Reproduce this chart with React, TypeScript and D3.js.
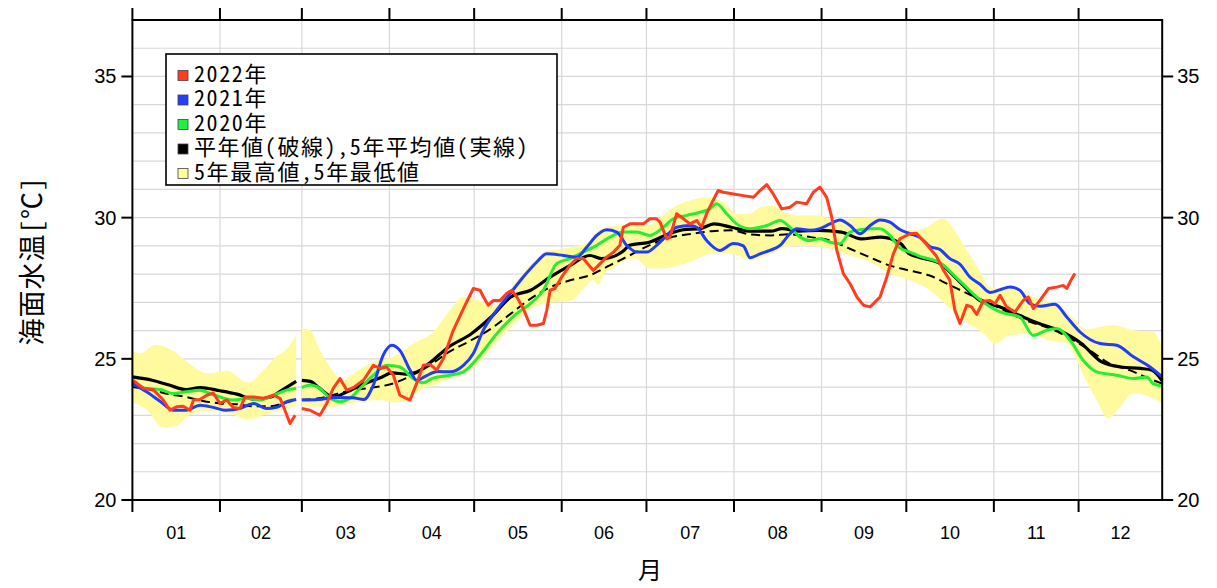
import React from 'react';
import * as d3 from 'd3';

type Pt = [number, number];

// ---- axes / categories ----
const monthLabels = ['01', '02', '03', '04', '05', '06', '07', '08', '09', '10', '11', '12'];
const monthStarts = [0, 31, 60, 91, 121, 152, 182, 213, 244, 274, 305, 335];
const yearEnd = 364.6;
const yTicks = [20, 25, 30, 35];
const yGrid = d3.range(21, 37, 1);

// ---- series (day of year, °C); NaN = missing day (Feb 29) ----
const mean5: Pt[] = [[0,24.36],[7,24.24],[13,24.07],[19,23.91],[24,23.98],[31,23.87],[37,23.75],[43,23.57],[49,23.65],[53,23.89],[58,24.2],[59,NaN],[60,24.24],[63,24.2],[66,23.98],[71,23.65],[76,23.83],[81,24.07],[88,24.34],[92,24.5],[97,24.46],[102,24.6],[105,24.83],[112,25.42],[120,25.89],[127,26.48],[134,27.19],[141,27.43],[148,27.9],[155,28.31],[162,28.66],[166,28.55],[169,28.58],[174,28.84],[176,29.02],[183,29.13],[190,29.43],[195,29.57],[201,29.61],[206,29.78],[212,29.66],[219,29.52],[226,29.52],[230,29.61],[236,29.52],[243,29.55],[251,29.49],[258,29.25],[265,29.31],[272,29.08],[275,28.72],[279,28.58],[286,28.37],[293,27.72],[300,27.07],[307,26.84],[314,26.54],[321,26.25],[328,26.01],[336,25.54],[343,24.9],[350,24.71],[357,24.66],[361,24.6],[364.6,24.22]];

const normal: Pt[] = [[0,24.0],[7,23.89],[13,23.75],[19,23.65],[25,23.51],[31,23.42],[37,23.39],[43,23.32],[49,23.32],[54,23.44],[58,23.54],[59,NaN],[60,23.55],[66,23.6],[72,23.75],[78,23.89],[85,23.98],[92,24.12],[99,24.42],[105,24.75],[112,25.24],[120,25.66],[127,26.07],[134,26.6],[141,27.13],[148,27.54],[155,27.78],[162,27.96],[169,28.31],[176,28.66],[183,29.02],[190,29.29],[197,29.41],[205,29.52],[212,29.55],[219,29.4],[226,29.37],[233,29.41],[240,29.31],[247,29.19],[254,28.9],[261,28.6],[268,28.31],[275,28.13],[282,27.96],[289,27.63],[297,27.25],[304,26.95],[311,26.6],[318,26.3],[325,26.07],[332,25.72],[339,25.3],[346,24.83],[353,24.6],[360,24.3],[364.6,24.12]];

const y2021: Pt[] = [[0,24.13],[5,23.83],[10,23.48],[14.5,23.18],[19,23.18],[24,23.36],[28.6,23.28],[33,23.18],[38,23.24],[43,23.42],[47.5,23.24],[51,23.28],[54.6,23.48],[58,23.56],[59,NaN],[60,23.54],[66,23.56],[72,23.63],[78,23.62],[82,23.56],[85.3,24.07],[88.8,25.13],[91.8,25.48],[94.7,25.3],[98.3,24.6],[100.6,24.24],[104,24.4],[108,24.55],[112.4,24.54],[117.2,24.77],[120.7,25.19],[124.2,26.01],[129,26.72],[133.7,27.31],[138.4,27.9],[143.2,28.43],[146.7,28.72],[152.6,28.66],[157.3,28.6],[160.9,28.96],[164.4,29.37],[167.9,29.57],[171.5,29.49],[175,29.02],[178.6,28.78],[182.1,28.78],[185.6,29.02],[189.2,29.37],[192.7,29.66],[197.4,29.72],[199.8,29.66],[203.3,29.19],[208,28.84],[212.8,29.08],[216.3,29.0],[218.7,28.58],[222.2,28.72],[225.7,28.84],[229.3,29.02],[232.8,29.43],[235.2,29.61],[239.9,29.55],[243.4,29.61],[247,29.78],[250.5,29.92],[254.1,29.72],[257.6,29.43],[261.2,29.72],[264.7,29.92],[268.2,29.84],[271.7,29.58],[275.3,29.43],[278.8,29.3],[282.3,28.98],[285.9,28.87],[289.4,28.55],[293,28.35],[296.5,27.9],[300,27.65],[303.6,27.35],[307.2,27.45],[310.7,27.54],[314.2,27.43],[317.8,26.95],[321.3,26.86],[326.6,26.93],[330.8,26.48],[335.5,25.95],[342.6,25.54],[348.5,25.48],[354.4,25.07],[360.3,24.71],[364.6,24.36]];

const y2020: Pt[] = [[0,24.18],[5,23.95],[10,23.91],[14.5,23.77],[19,23.83],[24,23.89],[27.5,23.77],[31,23.65],[35.7,23.54],[40.5,23.6],[45.2,23.54],[49.9,23.71],[54.6,23.89],[58,23.95],[59,NaN],[60,23.98],[63,24.07],[66.4,23.95],[70,23.6],[73.5,23.48],[77,23.6],[80.6,23.95],[85.3,24.42],[90,24.77],[94.7,24.71],[99.4,24.3],[103,24.15],[106,24.3],[112.4,24.42],[117.2,24.54],[123.1,25.13],[129,25.89],[136,26.6],[140.8,26.95],[145.5,27.43],[150.2,28.37],[154.9,28.55],[159.6,28.78],[164.4,29.02],[169.1,29.31],[173.8,29.49],[178.6,29.49],[183.2,29.37],[188,29.66],[191.5,29.96],[196.3,30.08],[200.9,30.19],[204.5,30.31],[206.8,30.49],[210.4,30.14],[213.9,29.78],[218.7,29.61],[224.6,29.72],[229.3,29.9],[232.8,29.66],[236.4,29.31],[239.9,29.19],[243.4,29.25],[247,29.13],[250.5,29.08],[254.1,29.49],[257.6,29.57],[261.2,29.61],[264.7,29.61],[268.2,29.37],[271.7,28.93],[275.3,28.78],[278.8,28.63],[285.9,28.4],[293,27.75],[300,27.1],[307.2,26.66],[314.2,26.48],[319,25.83],[323.7,26.01],[327.2,26.07],[332,25.66],[336.6,24.95],[341.4,24.54],[348.5,24.42],[354.4,24.3],[359.1,24.36],[361.4,24.12],[364.6,24.03]];

const y2022: Pt[] = [[0.2,24.24],[3.9,23.95],[7.4,23.91],[10.9,23.54],[13.3,23.18],[15.7,23.3],[18,23.32],[20.4,23.18],[21.6,23.54],[23.9,23.56],[26.3,23.71],[28.6,23.79],[31,23.42],[33.4,23.54],[35.7,23.28],[38.1,23.24],[39.9,23.65],[42.8,23.65],[46.4,23.6],[49.9,23.71],[52.3,23.6],[54,23.18],[55.8,22.71],[57.6,23.0],[59,NaN],[60,23.24],[62.9,23.18],[66.4,23.0],[68.8,23.42],[71.1,23.95],[73.5,24.3],[75.9,23.89],[78.2,23.98],[81.8,24.24],[85.3,24.77],[87.7,24.66],[90,24.71],[92.4,24.42],[94.7,23.71],[98.3,23.54],[100.6,24.12],[103,24.77],[105.4,24.8],[107.7,24.6],[110.1,25.01],[113.6,26.01],[117.2,26.78],[120.7,27.49],[123.1,27.43],[124.3,27.19],[126,26.9],[127.8,27.07],[130.2,27.07],[132.5,27.31],[134.3,27.43],[136.1,27.19],[138.4,26.78],[140.8,26.19],[143.2,26.19],[145.5,26.25],[146.7,26.72],[147.9,27.43],[149.6,27.49],[152,27.9],[154.9,28.31],[157.3,28.55],[159.6,28.55],[163.2,28.13],[165.6,28.37],[167.9,28.6],[170.3,28.78],[172.6,29.02],[173.8,29.66],[176.2,29.78],[180.9,29.78],[183.2,29.96],[185.6,29.96],[186.8,29.84],[189.2,29.25],[190.3,29.3],[192.7,30.14],[195.1,29.96],[197.4,29.78],[199.8,29.9],[201.5,29.66],[203.3,30.14],[205.6,30.61],[207.4,30.96],[209.2,30.9],[212.8,30.84],[216.3,30.78],[219.9,30.72],[222.2,30.96],[224.6,31.17],[226.9,30.84],[229.9,30.31],[232.8,30.37],[235.2,30.55],[238.7,30.49],[241.1,30.9],[243.4,31.08],[245.8,30.72],[247.6,30.02],[249.4,28.84],[251.7,28.02],[254.1,27.66],[256.5,27.19],[258.8,26.9],[261.2,26.84],[264.7,27.19],[267.1,27.9],[269.4,28.72],[271.7,29.25],[275.3,29.43],[277.6,29.45],[281.2,29.05],[284.7,28.63],[287.1,28.15],[289.4,27.78],[291.2,26.72],[293,26.25],[295.4,26.9],[297.1,26.84],[298.9,26.57],[301.2,27.04],[303.6,27.07],[305.4,26.95],[307.2,27.25],[309.5,26.84],[312.5,26.66],[315.4,27.07],[317.2,27.19],[319,26.78],[321.3,27.07],[324.3,27.49],[327.2,27.54],[329.6,27.6],[330.8,27.49],[332.6,27.84],[333.7,28.02]];

const bandMax: Pt[] = [[0,25.28],[3,25.2],[8,25.5],[14.5,25.28],[19.5,24.88],[26.5,24.49],[33.5,24.58],[41,24.16],[46,24.55],[51,25.09],[54.6,25.34],[58,25.87],[59,NaN],[60,26.07],[63,26.01],[66.4,25.3],[70,24.71],[74.7,24.24],[78.2,24.48],[85.3,24.89],[92.4,25.07],[99.5,25.54],[106.5,25.95],[112.4,26.72],[117.2,27.19],[122,27.1],[127,26.9],[131,27.0],[134,27.5],[138.4,28.05],[143.2,28.55],[147,28.85],[152.6,28.9],[157.3,29.0],[161,29.1],[165,29.55],[170,29.7],[176,29.7],[183,29.75],[188,30.1],[191.5,30.37],[197.4,30.61],[203.3,30.72],[209.2,30.55],[213.9,30.14],[218.7,30.14],[222.2,30.37],[226.9,30.43],[230.4,30.2],[236.4,30.08],[243.4,30.08],[248.2,29.9],[254.1,29.96],[261.2,30.0],[267.1,29.96],[271.7,29.66],[276.4,29.55],[281.2,29.65],[284.7,29.9],[287.1,29.96],[291.9,29.43],[295.4,28.84],[300,28.13],[303.6,27.54],[307.2,27.49],[311.9,27.54],[319,27.19],[326,26.95],[332,26.54],[337.8,26.05],[342.6,26.13],[347.3,26.19],[354.4,26.01],[361.4,25.95],[364.6,25.42]];

const bandMin: Pt[] = [[0,23.45],[5,23.2],[11,22.56],[16,22.65],[19.5,22.97],[26,23.16],[35,23.05],[41,22.85],[47.5,23.04],[54.5,23.23],[58,23.35],[59,NaN],[60,23.35],[66.4,23.3],[71,23.3],[76,23.4],[81,23.48],[88,23.54],[92.4,23.45],[97,23.5],[102,23.9],[107.7,24.1],[112.4,24.3],[117.2,24.45],[123,24.9],[129,25.6],[136,26.3],[140.8,26.75],[145.5,26.95],[150,27.0],[155,27.05],[160,27.5],[163,27.8],[165,27.62],[167,28.0],[170,28.2],[173,28.4],[178,28.55],[183,28.2],[188,28.2],[193,28.3],[198,28.45],[201,28.6],[208,28.75],[213,28.7],[218.7,28.5],[225.7,28.7],[232.8,29.0],[239.9,29.0],[247,28.9],[254.1,28.66],[261.2,28.43],[268.2,28.02],[275.3,27.78],[282.3,27.43],[289.4,26.8],[295.4,26.3],[301.2,25.9],[305.5,25.54],[310.2,25.83],[317.2,25.89],[324.3,25.66],[330.8,25.54],[337,24.36],[341.4,23.54],[345.5,22.89],[349.7,23.3],[354.4,23.77],[360.3,23.65],[364.6,23.42]];

const legendItems = [
  { label: '2022年', color: '#ff3c1e' },
  { label: '2021年', color: '#1f40ff' },
  { label: '2020年', color: '#20f040' },
  { label: '平年値(破線),5年平均値(実線)', color: '#000000' },
  { label: '5年最高値,5年最低値', color: '#ffff99' },
];

const COL_RED = '#ff3c1e';
const COL_BLUE = '#1f3cff';
const COL_GREEN = '#22ee33';
const COL_BAND = '#fffa9e';

const SANS = '"Liberation Sans", Arial, Helvetica, sans-serif';
const JP = '"Noto Sans Mono CJK JP", "DejaVu Sans Mono", "Noto Sans CJK JP", monospace';

function segments(arr: Pt[]): Pt[][] {
  const out: Pt[][] = [];
  let cur: Pt[] = [];
  for (const p of arr) {
    if (isNaN(p[1])) {
      if (cur.length) out.push(cur);
      cur = [];
    } else cur.push(p);
  }
  if (cur.length) out.push(cur);
  return out;
}

export default function App() {
  const x = d3.scaleLinear().domain([0, yearEnd]).range([132.4, 1162.2]);
  const y = d3.scaleLinear().domain([20, 37]).range([500, 20]);
  const [x0, x1] = x.range();
  const [yb, yt] = y.range();

  const smooth = d3
    .line<Pt>()
    .defined((d) => !isNaN(d[1]))
    .x((d) => x(d[0]))
    .y((d) => y(d[1]))
    .curve(d3.curveMonotoneX);
  const jag = d3
    .line<Pt>()
    .defined((d) => !isNaN(d[1]))
    .x((d) => x(d[0]))
    .y((d) => y(d[1]));
  const poly = d3
    .line<Pt>()
    .x((d) => x(d[0]))
    .y((d) => y(d[1]))
    .curve(d3.curveMonotoneX);

  const upSegs = segments(bandMax);
  const loSegs = segments(bandMin);
  const bandPaths = upSegs.map((u, i) => {
    const l = loSegs[i] || [];
    const upper = poly(u) || '';
    const lowerRev = poly([...l].reverse()) || '';
    return upper + 'L' + lowerRev.slice(1) + 'Z';
  });

  const monthMids = monthStarts.map((s, i) => (s + (i < 11 ? monthStarts[i + 1] : yearEnd)) / 2);
  const legendBase = (i: number) => 81.5 + i * 24.5;

  return (
    <svg
      width={1217}
      height={588}
      style={{ position: 'absolute', left: 0, top: 0, background: '#fff' }}
    >
      <rect x={0} y={0} width={1217} height={588} fill="#fff" />
      {/* grid */}
      <g stroke="#d8d8d8" strokeWidth={1.2}>
        {yGrid.map((v) => (
          <line key={'h' + v} x1={x0} x2={x1} y1={y(v)} y2={y(v)} />
        ))}
        {monthStarts.slice(1).map((d) => (
          <line key={'v' + d} x1={x(d)} x2={x(d)} y1={yt} y2={yb} />
        ))}
      </g>
      {/* band */}
      {bandPaths.map((p, i) => (
        <path key={'b' + i} d={p} fill={COL_BAND} stroke="none" />
      ))}
      {/* lines */}
      <path d={smooth(mean5) || ''} fill="none" stroke="#000" strokeWidth={3.2} strokeLinejoin="round" />
      <path d={smooth(normal) || ''} fill="none" stroke="#000" strokeWidth={2} strokeDasharray="9 5" />
      <path d={smooth(y2020) || ''} fill="none" stroke={COL_GREEN} strokeWidth={3} strokeLinejoin="round" />
      <path d={smooth(y2021) || ''} fill="none" stroke={COL_BLUE} strokeWidth={3} strokeLinejoin="round" />
      <path d={jag(y2022) || ''} fill="none" stroke={COL_RED} strokeWidth={3} strokeLinejoin="round" />

      {/* frame */}
      <rect x={x0} y={yt} width={x1 - x0} height={yb - yt} fill="none" stroke="#000" strokeWidth={2} />
      {/* x ticks top & bottom */}
      <g stroke="#000" strokeWidth={2}>
        {monthStarts.map((d) => (
          <g key={'t' + d}>
            <line x1={x(d)} x2={x(d)} y1={yt} y2={yt - 12} />
            <line x1={x(d)} x2={x(d)} y1={yb} y2={yb + 12} />
          </g>
        ))}
        {yTicks.map((v) => (
          <g key={'yt' + v}>
            <line x1={x0} x2={x0 - 11} y1={y(v)} y2={y(v)} />
            <line x1={x1} x2={x1 + 11} y1={y(v)} y2={y(v)} />
          </g>
        ))}
      </g>
      {/* tick labels */}
      <g fontFamily={SANS} fontSize={20} fill="#000">
        {yTicks.map((v) => (
          <g key={'yl' + v}>
            <text x={x0 - 16} y={y(v) + 7} textAnchor="end">
              {v}
            </text>
            <text x={x1 + 15} y={y(v) + 7} textAnchor="start">
              {v}
            </text>
          </g>
        ))}
        {monthLabels.map((m, i) => (
          <text key={'m' + m} x={x(monthMids[i])} y={539} textAnchor="middle" fontSize={18}>
            {m}
          </text>
        ))}
      </g>
      {/* axis titles */}
      <text
        transform={`translate(42, 261) rotate(-90)`}
        textAnchor="middle"
        fontFamily={JP}
        fontSize={27}
        letterSpacing={1}
        fill="#000"
      >
        海面水温[℃]
      </text>
      <text x={650} y={579} textAnchor="middle" fontFamily={JP} fontSize={24} fill="#000">
        月
      </text>

      {/* legend */}
      <g>
        <rect x={166} y={54} width={391} height={131} fill="#fff" stroke="#000" strokeWidth={1.6} />
        {legendItems.map((it, i) => (
          <rect
            key={'lgs' + i}
            x={178}
            y={legendBase(i) - 11}
            width={10}
            height={10}
            fill={it.color}
            stroke="#444"
            strokeWidth={0.8}
          />
        ))}
        <text fontFamily={JP} fontSize={22} letterSpacing={1.6} fill="#000">
          {legendItems.map((it, i) => (
            <tspan key={'lgt' + i} x={194} y={legendBase(i)}>
              {it.label}
            </tspan>
          ))}
        </text>
      </g>
    </svg>
  );
}
